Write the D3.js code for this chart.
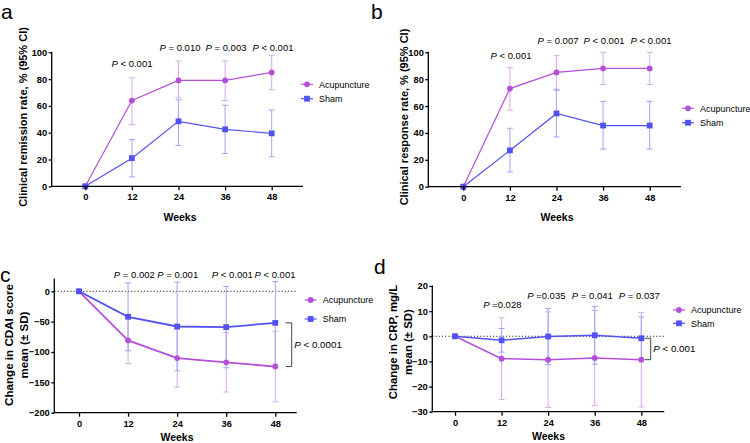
<!DOCTYPE html>
<html><head><meta charset="utf-8">
<script src="https://cdn.jsdelivr.net/npm/d3@7"></script>
<style>
body{margin:0;background:#fff;}
svg{display:block;font-family:"Liberation Sans",Arial,Helvetica,sans-serif;}
</style></head>
<body>
<svg id="chart" width="750" height="443"></svg>
<script>
// ---------- data ----------
const weeks = [0, 12, 24, 36, 48];
const seriesNames = ["Acupuncture", "Sham"];

// a: clinical remission rate (%, 95% CI)
const remAcu = [0, 64, 79, 79, 85];
const remAcuLo = [0, 46, 66, 64, 72];
const remAcuHi = [0, 81, 93.5, 93.5, 97.5];
const remSham = [0, 21, 48.5, 42.5, 39.5];
const remShamLo = [0, 7, 30.5, 24.5, 22];
const remShamHi = [0, 35, 64.5, 60.5, 57];
const remP = ["< 0.001", "= 0.010", "= 0.003", "< 0.001"];

// b: clinical response rate (%, 95% CI)
const resAcu = [0, 73, 85, 88, 88];
const resAcuLo = [0, 57, 71.5, 76, 76];
const resAcuHi = [0, 88.5, 97.5, 100, 100];
const resSham = [0, 27, 54.5, 45.5, 45.5];
const resShamLo = [0, 11, 37, 28, 28];
const resShamHi = [0, 43.5, 72.5, 63.5, 63.5];
const resP = ["< 0.001", "= 0.007", "< 0.001", "< 0.001"];

// c: change in CDAI score (mean ± SD)
const cdaiAcu = [0, -81, -110, -117, -124];
const cdaiAcuSD = [0, 38, 48, 49, 58];
const cdaiSham = [0, -42, -58, -59, -52];
const cdaiShamSD = [0, 56, 73, 67, 68];
const cdaiP = ["= 0.002", "= 0.001", "< 0.001", "< 0.001"];
const cdaiOverallP = "< 0.0001";

// d: change in CRP, mg/L (mean ± SD)
const crpAcu = [0, -8.9, -9.3, -8.6, -9.3];
const crpAcuSD = [0, 16.2, 19, 18.9, 18.8];
const crpSham = [0, -1.6, -0.1, 0.4, -0.8];
const crpShamSD = [0, 4.7, 11.2, 11.5, 8.5];
const crpP = ["=0.028", "=0.035", "= 0.041", "= 0.037"];
const crpOverallP = "< 0.001";

const yTicksRate = [0, 20, 40, 60, 80, 100];
const yTicksCdai = [0, -50, -100, -150, -200];
const yTicksCrp = [20, 10, 0, -10, -20, -30];

// ---------- styles ----------
const C_ACU = "#B450D8", C_ACU_ERR = "#D9A8EE";
const C_SHAM = "#5252F2", C_SHAM_ERR = "#A2A2F7";

const svg = d3.select("#chart");

function panel(o) {
  const g = svg.append("g");
  const x = d3.scaleLinear().domain([0, 48]).range([o.x0, o.x48]);
  const y = d3.scaleLinear().domain(o.yDom).range(o.yRange);
  const xLeft = o.axisX, xRight = o.axisRight;
  const yBottom = y(o.yMin), yTop = y(o.yMax);

  if (o.zeroLine) {
    g.append("line").attr("x1", xLeft).attr("x2", xRight)
      .attr("y1", y(0)).attr("y2", y(0))
      .attr("stroke", "#333").attr("stroke-width", 1).attr("stroke-dasharray", "1.2,2");
  }

  const series = [
    {v: o.acu, lo: o.acuLo, hi: o.acuHi, c: C_ACU, ce: C_ACU_ERR, shape: "circle"},
    {v: o.sham, lo: o.shamLo, hi: o.shamHi, c: C_SHAM, ce: C_SHAM_ERR, shape: "square"}
  ];
  series.forEach(s => {
    weeks.forEach((w, i) => {
      if (i === 0) return;
      const xx = x(w);
      g.append("line").attr("x1", xx).attr("x2", xx)
        .attr("y1", y(s.lo[i])).attr("y2", y(s.hi[i]))
        .attr("stroke", s.ce).attr("stroke-width", 1);
      [s.lo[i], s.hi[i]].forEach(vv => {
        g.append("line").attr("x1", xx - 3).attr("x2", xx + 3)
          .attr("y1", y(vv)).attr("y2", y(vv))
          .attr("stroke", s.ce).attr("stroke-width", 1);
      });
    });
  });
  series.slice().reverse().forEach(s => {
    g.append("path").datum(weeks.map((w, i) => [w, s.v[i]]))
      .attr("d", d3.line().x(d => x(d[0])).y(d => y(d[1])))
      .attr("fill", "none").attr("stroke", s.c).attr("stroke-width", o.lw);
  });
  series.forEach(s => {
    weeks.forEach((w, i) => {
      if (s.shape === "circle") {
        g.append("circle").attr("cx", x(w)).attr("cy", y(s.v[i])).attr("r", 2.9).attr("fill", s.c);
      } else {
        g.append("rect").attr("x", x(w) - 2.9).attr("y", y(s.v[i]) - 2.9)
          .attr("width", 5.8).attr("height", 5.8).attr("fill", s.c);
      }
    });
  });

  const yAxis = d3.axisLeft(y).tickValues(o.yTicks).tickSize(3).tickPadding(1.5).tickSizeOuter(0);
  const ya = g.append("g").attr("transform", `translate(${xLeft},0)`).call(yAxis);
  ya.select(".domain").remove();
  const xAxis = d3.axisBottom(x).tickValues(weeks).tickSize(4).tickPadding(3.5).tickSizeOuter(0);
  const xa = g.append("g").attr("transform", `translate(0,${yBottom})`).call(xAxis);
  xa.select(".domain").remove();
  [ya, xa].forEach(a => {
    a.selectAll("text").attr("font-size", 9.3).attr("font-weight", "bold").attr("fill", "#000")
      .attr("font-family", "Liberation Sans, Arial, sans-serif");
    a.selectAll("line").attr("stroke", "#000").attr("stroke-width", 1.3);
  });
  g.append("line").attr("x1", xLeft).attr("x2", xLeft).attr("y1", yTop - 0.6).attr("y2", yBottom + 0.6)
    .attr("stroke", "#000").attr("stroke-width", 1.3);
  g.append("line").attr("x1", xLeft - 0.6).attr("x2", xRight).attr("y1", yBottom).attr("y2", yBottom)
    .attr("stroke", "#000").attr("stroke-width", 1.3);

  g.append("text").attr("x", o.weeksX).attr("y", o.weeksY).attr("text-anchor", "middle")
    .attr("font-size", 10.5).attr("font-weight", "bold").text("Weeks");

  const yt = g.append("text").attr("transform", `translate(${o.ytX},${o.ytY}) rotate(-90)`)
    .attr("text-anchor", "middle").attr("font-size", o.ytSize).attr("font-weight", "bold");
  o.yTitle.forEach((line, k) => {
    yt.append("tspan").attr("x", 0).attr("y", k * o.ytGap).attr("dy", "0.35em").text(line);
  });

  g.append("text").attr("x", o.letterX).attr("y", o.letterY).attr("font-size", 21).text(o.letter);

  o.pvals.forEach((p, i) => {
    const t = g.append("text").attr("x", o.pPos[i][0]).attr("y", o.pPos[i][1] + 3.4)
      .attr("text-anchor", "middle").attr("font-size", 9.5);
    t.append("tspan").attr("font-style", "italic").text("P");
    t.append("tspan").text(" " + p);
  });

  series.forEach((s, k) => {
    const ly = o.legY[k], lx = o.legX;
    g.append("line").attr("x1", lx - 6).attr("x2", lx + 6).attr("y1", ly).attr("y2", ly)
      .attr("stroke", s.c).attr("stroke-width", 1.2);
    if (s.shape === "circle") g.append("circle").attr("cx", lx).attr("cy", ly).attr("r", 2.9).attr("fill", s.c);
    else g.append("rect").attr("x", lx - 2.9).attr("y", ly - 2.9).attr("width", 5.8).attr("height", 5.8).attr("fill", s.c);
    g.append("text").attr("x", lx + 12).attr("y", ly + 3.2).attr("font-size", 9).text(seriesNames[k]);
  });

  if (o.bracket) {
    const b = o.bracket;
    const y1 = y(o.sham[4]), y2 = y(o.acu[4]);
    g.append("path").attr("d", `M${b.x - 6},${y1}H${b.x}V${y2}H${b.x - 6}`)
      .attr("fill", "none").attr("stroke", "#444").attr("stroke-width", 1);
    const t = g.append("text").attr("x", b.x + 2.5).attr("y", (y1 + y2) / 2 + 3.5).attr("font-size", 9.8);
    t.append("tspan").attr("font-style", "italic").text("P");
    t.append("tspan").text(" " + b.p);
  }
}

panel({
  x0: 85.3, x48: 271.7, axisX: 51.7, axisRight: 303,
  yDom: [0, 100], yRange: [186.3, 52.3], yMin: 0, yMax: 100, yTicks: yTicksRate,
  acu: remAcu, acuLo: remAcuLo, acuHi: remAcuHi,
  sham: remSham, shamLo: remShamLo, shamHi: remShamHi,
  lw: 1.2, weeksX: 180, weeksY: 221,
  yTitle: ["Clinical remission rate, % (95% CI)"], ytX: 23, ytY: 117, ytSize: 11, ytGap: 0,
  letter: "a", letterX: 1, letterY: 19,
  pvals: remP, pPos: [[132, 63.3], [180, 47.7], [226, 47.7], [273, 47.7]],
  legX: 307, legY: [84.3, 98.7]
});

panel({
  x0: 463.3, x48: 649.7, axisX: 428.3, axisRight: 681,
  yDom: [0, 100], yRange: [186.7, 52.3], yMin: 0, yMax: 100, yTicks: yTicksRate,
  acu: resAcu, acuLo: resAcuLo, acuHi: resAcuHi,
  sham: resSham, shamLo: resShamLo, shamHi: resShamHi,
  lw: 1.2, weeksX: 557, weeksY: 221,
  yTitle: ["Clinical response rate, % (95% CI)"], ytX: 404, ytY: 117, ytSize: 11, ytGap: 0,
  letter: "b", letterX: 371, letterY: 19,
  pvals: resP, pPos: [[511, 56], [558, 41], [604, 41], [651, 41]],
  legX: 688, legY: [108.3, 122.7]
});

panel({
  x0: 79, x48: 275.3, axisX: 54.3, axisRight: 296.7,
  yDom: [0, -200], yRange: [291.3, 412.7], yMin: -200, yMax: 20, yTicks: yTicksCdai,
  acu: cdaiAcu, acuLo: cdaiAcu.map((v, i) => v - cdaiAcuSD[i]), acuHi: cdaiAcu.map((v, i) => v + cdaiAcuSD[i]),
  sham: cdaiSham, shamLo: cdaiSham.map((v, i) => v - cdaiShamSD[i]), shamHi: cdaiSham.map((v, i) => v + cdaiShamSD[i]),
  lw: 1.8, weeksX: 177, weeksY: 441, zeroLine: true,
  yTitle: ["Change in CDAI score", "mean (± SD)"], ytX: 9, ytY: 345, ytSize: 11.6, ytGap: 14.5,
  letter: "c", letterX: 0, letterY: 282,
  pvals: cdaiP, pPos: [[134.3, 274.3], [177.7, 274.3], [232.3, 274.3], [275, 274.3]],
  legX: 310.7, legY: [300, 319],
  bracket: {x: 291.7, p: cdaiOverallP}
});

panel({
  x0: 455, x48: 641.3, axisX: 432.3, axisRight: 664.3,
  yDom: [20, -30], yRange: [286, 411.7], yMin: -30, yMax: 20, yTicks: yTicksCrp,
  acu: crpAcu, acuLo: crpAcu.map((v, i) => v - crpAcuSD[i]), acuHi: crpAcu.map((v, i) => v + crpAcuSD[i]),
  sham: crpSham, shamLo: crpSham.map((v, i) => v - crpShamSD[i]), shamHi: crpSham.map((v, i) => v + crpShamSD[i]),
  lw: 1.5, weeksX: 548.5, weeksY: 440, zeroLine: true,
  yTitle: ["Change in CRP, mg/L", "mean (± SD)"], ytX: 393, ytY: 342, ytSize: 11.4, ytGap: 15,
  letter: "d", letterX: 374, letterY: 274,
  pvals: crpP, pPos: [[502.3, 304.3], [546.3, 296], [592.3, 296], [639.3, 296]],
  legX: 679, legY: [310, 323.3],
  bracket: {x: 650.7, p: crpOverallP}
});
</script>
</body></html>
